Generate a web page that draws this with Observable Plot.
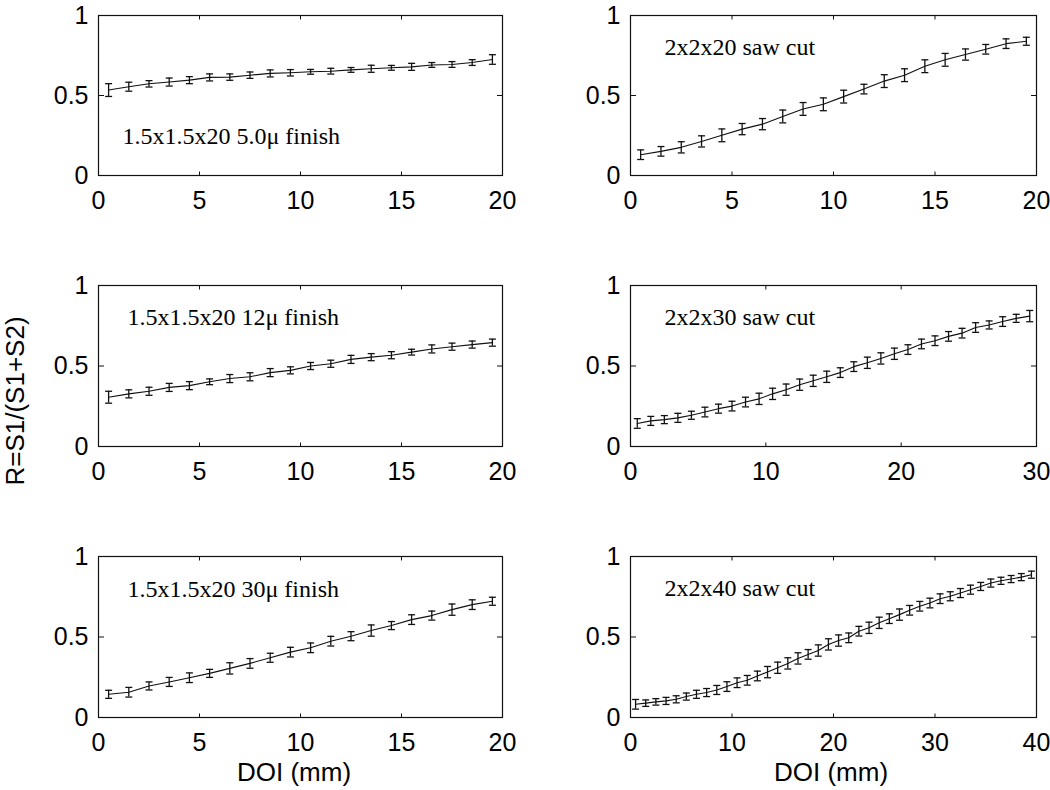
<!DOCTYPE html>
<html>
<head>
<meta charset="utf-8">
<script src="https://cdn.jsdelivr.net/npm/d3@7"></script>
<script src="https://cdn.jsdelivr.net/npm/@observablehq/plot@0.6"></script>
<style>
  html, body { margin: 0; padding: 0; background: white; }
  #wrap { position: relative; width: 1050px; height: 790px; overflow: hidden; background: white; }
  #wrap svg { position: absolute; overflow: visible; max-width: none; }
  .lbl { position: absolute; font-family: "Liberation Sans", Arial, sans-serif; font-size: 26px; color: #000; white-space: nowrap; }
</style>
</head>
<body>
<div id="wrap"></div>
<script>
// ---- data ----
const doi20 = [0.5,1.5,2.5,3.5,4.5,5.5,6.5,7.5,8.5,9.5,10.5,11.5,12.5,13.5,14.5,15.5,16.5,17.5,18.5,19.5];
const doi30 = [0.5,1.5,2.5,3.5,4.5,5.5,6.5,7.5,8.5,9.5,10.5,11.5,12.5,13.5,14.5,15.5,16.5,17.5,18.5,19.5,
               20.5,21.5,22.5,23.5,24.5,25.5,26.5,27.5,28.5,29.5];
const doi40 = [0.5,1.5,2.5,3.5,4.5,5.5,6.5,7.5,8.5,9.5,10.5,11.5,12.5,13.5,14.5,15.5,16.5,17.5,18.5,19.5,
               20.5,21.5,22.5,23.5,24.5,25.5,26.5,27.5,28.5,29.5,30.5,31.5,32.5,33.5,34.5,35.5,36.5,37.5,38.5,39.5];

const rFinish5  = [0.534,0.555,0.573,0.584,0.596,0.613,0.615,0.627,0.638,0.642,0.648,0.652,0.660,0.667,0.673,0.679,0.691,0.694,0.706,0.725];
const eFinish5  = [0.040,0.028,0.020,0.025,0.022,0.022,0.020,0.020,0.022,0.020,0.015,0.018,0.015,0.022,0.015,0.022,0.015,0.018,0.018,0.030];

const rFinish12 = [0.306,0.327,0.343,0.367,0.378,0.402,0.422,0.433,0.459,0.473,0.500,0.514,0.541,0.555,0.567,0.586,0.606,0.620,0.633,0.645];
const eFinish12 = [0.037,0.025,0.025,0.025,0.025,0.018,0.025,0.025,0.025,0.022,0.022,0.022,0.025,0.022,0.022,0.018,0.025,0.022,0.022,0.022];

const rFinish30 = [0.144,0.157,0.196,0.221,0.247,0.274,0.305,0.336,0.371,0.406,0.433,0.474,0.505,0.540,0.571,0.608,0.633,0.670,0.701,0.722];
const eFinish30 = [0.025,0.030,0.025,0.028,0.030,0.025,0.035,0.030,0.028,0.030,0.030,0.030,0.028,0.035,0.025,0.030,0.028,0.035,0.030,0.025];

const rSaw20 = [0.130,0.151,0.176,0.213,0.251,0.290,0.321,0.369,0.416,0.445,0.493,0.540,0.590,0.627,0.683,0.723,0.756,0.789,0.824,0.839];
const eSaw20 = [0.030,0.030,0.035,0.035,0.040,0.035,0.035,0.040,0.040,0.040,0.040,0.030,0.040,0.040,0.040,0.040,0.035,0.030,0.030,0.025];

const rSaw30 = [0.143,0.159,0.167,0.178,0.194,0.214,0.235,0.251,0.276,0.296,0.327,0.353,0.384,0.408,0.433,0.459,0.496,0.520,0.547,0.576,
                0.602,0.637,0.657,0.684,0.704,0.739,0.755,0.776,0.796,0.810];
const eSaw30 = [0.030,0.028,0.025,0.028,0.025,0.030,0.028,0.030,0.030,0.035,0.035,0.035,0.035,0.035,0.035,0.030,0.030,0.035,0.035,0.035,
                0.030,0.030,0.030,0.030,0.030,0.030,0.025,0.030,0.025,0.035];

const rSaw40 = [0.082,0.089,0.097,0.103,0.113,0.130,0.144,0.155,0.171,0.192,0.216,0.231,0.258,0.282,0.309,0.336,0.367,0.392,0.416,0.454,
                0.478,0.495,0.536,0.557,0.588,0.614,0.639,0.666,0.691,0.711,0.738,0.753,0.773,0.794,0.814,0.835,0.849,0.860,0.872,0.887];
const eSaw40 = [0.030,0.020,0.020,0.022,0.022,0.022,0.025,0.025,0.028,0.030,0.030,0.030,0.030,0.035,0.035,0.035,0.035,0.030,0.035,0.035,
                0.035,0.030,0.030,0.035,0.035,0.030,0.035,0.030,0.030,0.030,0.030,0.028,0.028,0.028,0.025,0.025,0.022,0.022,0.022,0.022];

const labels = ["1.5x1.5x20 5.0\u03bc finish", "2x2x20 saw cut", "1.5x1.5x20 12\u03bc finish",
                "2x2x30 saw cut", "1.5x1.5x20 30\u03bc finish", "2x2x40 saw cut"];
const xTicks20 = [0,5,10,15,20];
const xTicks30 = [0,10,20,30];
const xTicks40 = [0,10,20,30,40];
const yTicks = [0,0.5,1];

// ---- drawing ----
// custom symbols (size -> radius r = sqrt(size/PI))
const sym = (f) => ({draw(ctx, size) { const r = Math.sqrt(size / Math.PI); f(ctx, r); }});
const capSym   = sym((c, r) => { c.moveTo(-r, 0); c.lineTo(r, 0); });
const tickUp   = sym((c, r) => { c.moveTo(0, 0); c.lineTo(0, -r); });
const tickDown = sym((c, r) => { c.moveTo(0, 0); c.lineTo(0, r); });
const tickRight= sym((c, r) => { c.moveTo(0, 0); c.lineTo(r, 0); });
const tickLeft = sym((c, r) => { c.moveTo(0, 0); c.lineTo(-r, 0); });

const wrap = document.getElementById("wrap");

function panel({xs, ys, es, xmax, xticks, label, left, frameTop, width, marginRight, frameH, anchor, dx, dy}) {
  const data = xs.map((x, i) => ({x, y: ys[i], lo: ys[i] - es[i], hi: ys[i] + es[i]}));
  const marginTop = 24, marginBottom = 45, marginLeft = 98;
  const ink = "#111";
  const p = Plot.plot({
    width, height: marginTop + frameH + marginBottom,
    marginLeft, marginRight, marginTop, marginBottom,
    x: {domain: [0, xmax]},
    y: {domain: [0, 1]},
    style: {background: "transparent", overflow: "visible", color: "#000",
            fontFamily: "'Liberation Sans', Arial, sans-serif"},
    marks: [
      Plot.axisX(xticks, {tickSize: 0, tickPadding: 16, fontSize: 25, label: null, tickFormat: d => String(d)}),
      Plot.axisY(yTicks, {tickSize: 0, tickPadding: 10, fontSize: 25, label: null, tickFormat: d => String(d)}),
      // inward ticks on all four sides
      Plot.dot(xticks, {x: d => d, y: () => 0, symbol: tickUp, r: 4, stroke: ink, fill: "none", strokeWidth: 1}),
      Plot.dot(xticks, {x: d => d, y: () => 1, symbol: tickDown, r: 4, stroke: ink, fill: "none", strokeWidth: 1}),
      Plot.dot(yTicks, {x: () => 0, y: d => d, symbol: tickRight, r: 5.5, stroke: ink, fill: "none", strokeWidth: 1}),
      Plot.dot(yTicks, {x: () => xmax, y: d => d, symbol: tickLeft, r: 5.5, stroke: ink, fill: "none", strokeWidth: 1}),
      Plot.frame({stroke: ink, strokeWidth: 1.2}),
      // error bars
      Plot.ruleX(data, {x: "x", y1: "lo", y2: "hi", stroke: ink, strokeWidth: 1.3}),
      Plot.dot(data, {x: "x", y: "lo", symbol: capSym, r: 3.5, stroke: ink, fill: "none", strokeWidth: 1.3}),
      Plot.dot(data, {x: "x", y: "hi", symbol: capSym, r: 3.5, stroke: ink, fill: "none", strokeWidth: 1.3}),
      // curve
      Plot.line(data, {x: "x", y: "y", stroke: ink, strokeWidth: 1.1}),
      // annotation
      Plot.text([label], {text: d => d, frameAnchor: anchor, dx, dy, textAnchor: "start", lineAnchor: "bottom",
                          fontSize: 24, fontFamily: "'Liberation Serif', 'Times New Roman', serif", fill: "#000"})
    ]
  });
  p.style.left = left + "px";
  p.style.top = (frameTop - marginTop) + "px";
  wrap.appendChild(p);
}

const L = {left: 0, width: 525, marginRight: 23, dx: 29};
const R = {left: 532, width: 518, marginRight: 14, dx: 34};

panel({...L, xs: doi20, ys: rFinish5, es: eFinish5, xmax: 20, xticks: xTicks20, label: labels[0],
       frameTop: 15, frameH: 160, anchor: "bottom-left", dx: 24, dy: -32});
panel({...R, xs: doi20, ys: rSaw20, es: eSaw20, xmax: 20, xticks: xTicks20, label: labels[1],
       frameTop: 15, frameH: 160, anchor: "top-left", dy: 39});
panel({...L, xs: doi20, ys: rFinish12, es: eFinish12, xmax: 20, xticks: xTicks20, label: labels[2],
       frameTop: 285, frameH: 161, anchor: "top-left", dy: 39});
panel({...R, xs: doi30, ys: rSaw30, es: eSaw30, xmax: 30, xticks: xTicks30, label: labels[3],
       frameTop: 285, frameH: 161, anchor: "top-left", dy: 39});
panel({...L, xs: doi20, ys: rFinish30, es: eFinish30, xmax: 20, xticks: xTicks20, label: labels[4],
       frameTop: 556, frameH: 161, anchor: "top-left", dy: 40});
panel({...R, xs: doi40, ys: rSaw40, es: eSaw40, xmax: 40, xticks: xTicks40, label: labels[5],
       frameTop: 556, frameH: 161, anchor: "top-left", dy: 39});

// axis titles
function addLabel(text, css) {
  const d = document.createElement("div");
  d.className = "lbl";
  d.textContent = text;
  Object.assign(d.style, css);
  wrap.appendChild(d);
}
addLabel("DOI (mm)", {left: "294px", top: "772px", transform: "translate(-50%, -50%)"});
addLabel("DOI (mm)", {left: "831px", top: "772px", transform: "translate(-50%, -50%)"});
addLabel("R=S1/(S1+S2)", {left: "15px", top: "401px", transform: "translate(-50%, -50%) rotate(-90deg)"});
</script>
</body>
</html>
